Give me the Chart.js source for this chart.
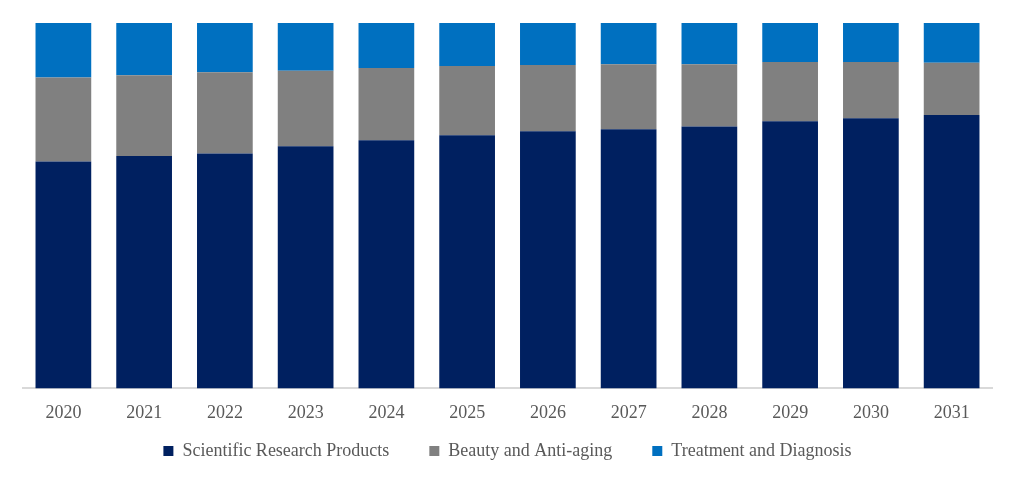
<!DOCTYPE html>
<html>
<head>
<meta charset="utf-8">
<script src="https://cdn.jsdelivr.net/npm/chart.js@4"></script>
<style>
  html, body { margin: 0; padding: 0; background: #fff; }
  #wrap { width: 1015px; height: 479px; }
</style>
</head>
<body>
<div id="wrap"><canvas id="chart"></canvas></div>
<script>
const years = ["2020", "2021", "2022", "2023", "2024", "2025", "2026", "2027", "2028", "2029", "2030", "2031"];

// share of total, %
const research = [62.1, 63.6, 64.3, 66.3, 67.9, 69.3, 70.4, 70.9, 71.7, 73.1, 73.9, 74.8];
const beauty = [23.0, 22.1, 22.2, 20.6, 19.8, 18.9, 18.1, 17.8, 17.0, 16.2, 15.4, 14.3];
const treatment = [14.9, 14.3, 13.5, 13.1, 12.3, 11.8, 11.5, 11.3, 11.3, 10.7, 10.7, 10.9];

const font = "'Liberation Serif', 'Times New Roman', serif";

// wide gaps between legend items, but keep the legend box short
const legendHeight = {
    id: "legendHeight",
    beforeInit(chart) {
        const fit = chart.legend.fit;
        chart.legend.fit = function () {
            fit.call(this);
            this.height = 20;
        };
    },
    afterLayout(chart) {
        chart.legend.top = 402;
        chart.legend.bottom = 479;
    }
};

const ctx = document.getElementById("chart");
new Chart(ctx, {
    type: "bar",
    data: {
        labels: years,
        datasets: [
            { label: "Scientific Research Products", data: research, backgroundColor: "#002060" },
            { label: "Beauty and Anti-aging", data: beauty, backgroundColor: "#808080" },
            { label: "Treatment and Diagnosis", data: treatment, backgroundColor: "#0070C0" }
        ]
    },
    options: {
        responsive: true,
        maintainAspectRatio: false,
        animation: false,
        layout: { padding: { left: 23, right: 23, top: 23, bottom: 29 } },
        datasets: { bar: { categoryPercentage: 0.69, barPercentage: 1 } },
        scales: {
            x: {
                stacked: true,
                grid: { display: false },
                border: { color: "#d9d9d9", width: 2 },
                ticks: { color: "#595959", font: { family: font, size: 18 }, padding: 6 }
            },
            y: {
                stacked: true,
                display: false,
                min: 0,
                max: 100
            }
        },
        plugins: {
            legend: {
                position: "bottom",
                labels: {
                    color: "#595959",
                    font: { family: font, size: 18 },
                    boxWidth: 10,
                    boxHeight: 10,
                    padding: 40
                }
            },
            tooltip: { enabled: false }
        }
    },
    plugins: [legendHeight]
});
</script>
</body>
</html>
